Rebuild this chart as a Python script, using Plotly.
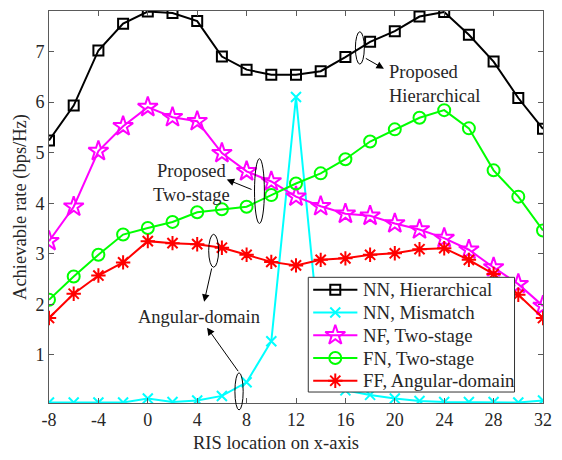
import plotly.graph_objects as go

# RIS location on the x-axis
ris_x = [-8, -6, -4, -2, 0, 2, 4, 6, 8, 10, 12, 14, 16, 18, 20, 22, 24, 26, 28, 30, 32]

# Achievable rate (bps/Hz) of each scheme
nn_hier = [5.24, 5.93, 7.02, 7.55, 7.79, 7.76, 7.60, 6.90, 6.64, 6.54, 6.54,
           6.61, 6.89, 7.19, 7.40, 7.69, 7.78, 7.33, 6.80, 6.08, 5.47]
nn_mis = [0.06, 0.06, 0.06, 0.06, 0.14, 0.07, 0.10, 0.19, 0.46, 1.27, 6.10,
          1.10, 0.30, 0.21, 0.14, 0.09, 0.07, 0.07, 0.07, 0.06, 0.10]
nf_two = [3.25, 3.93, 5.03, 5.52, 5.90, 5.70, 5.62, 4.99, 4.63, 4.43, 4.13,
          3.94, 3.79, 3.75, 3.60, 3.48, 3.31, 3.08, 2.73, 2.40, 1.97]
fn_two = [2.09, 2.55, 2.98, 3.38, 3.51, 3.63, 3.82, 3.88, 3.93, 4.16, 4.39,
          4.59, 4.87, 5.22, 5.46, 5.69, 5.84, 5.48, 4.65, 4.13, 3.46]
ff_ang = [1.73, 2.21, 2.57, 2.83, 3.25, 3.21, 3.19, 3.12, 2.98, 2.84, 2.77,
          2.88, 2.91, 2.98, 3.01, 3.09, 3.11, 2.88, 2.60, 2.19, 1.73]

x_ticks = [-8, -4, 0, 4, 8, 12, 16, 20, 24, 28, 32]
x_tick_text = ["-8", "-4", "0", "4", "8", "12", "16", "20", "24", "28", "32"]
y_ticks = [1, 2, 3, 4, 5, 6, 7]

FONT = "Liberation Serif, Times New Roman, serif"
TXT = "#262626"
AX = "#5a5a5a"

series = [
    ("NN, Hierarchical", nn_hier, "#000000", "square-open", 10),
    ("NN, Mismatch", nn_mis, "#00FFFF", "x-thin-open", 10),
    ("NF, Two-stage", nf_two, "#FF00FF", "star-open", 15),
    ("FN, Two-stage", fn_two, "#00FF00", "circle-open", 12),
    ("FF, Angular-domain", ff_ang, "#FF0000", "asterisk-open", 12),
]

fig = go.Figure()
for name, vals, col, sym, sz in series:
    fig.add_trace(go.Scatter(
        x=ris_x, y=vals, name=name, mode="lines+markers", showlegend=False,
        line=dict(color=col, width=2),
        marker=dict(symbol=sym, size=sz, color=col, line=dict(color=col, width=2)),
    ))

# plot-area geometry (pixels) used for the legend and paper-referenced items
L, R, T, B = 49, 552, 10, 403
def px(xp):
    return (xp - L) / (R - L)
def py(yp):
    return (B - yp) / (B - T)

# legend drawn on an overlay axis spanning the plot area with range [0, 1]
box_l, box_r, box_t, box_b = 313, 523, 277, 392
fig.add_trace(go.Scatter(
    x=[px(box_l), px(box_r), px(box_r), px(box_l), px(box_l)],
    y=[py(box_t), py(box_t), py(box_b), py(box_b), py(box_t)],
    mode="lines", fill="toself", fillcolor="white",
    line=dict(color="#333333", width=1), xaxis="x2", yaxis="y2",
    showlegend=False, hoverinfo="skip"))

annotations = []
row_y0, row_dy = 289.5, 22.8
for i, (name, vals, col, sym, sz) in enumerate(series):
    yy = py(row_y0 + i * row_dy)
    fig.add_trace(go.Scatter(
        x=[px(318), px(363)], y=[yy, yy], mode="lines",
        line=dict(color=col, width=2), xaxis="x2", yaxis="y2",
        showlegend=False, hoverinfo="skip"))
    fig.add_trace(go.Scatter(
        x=[px(340.5)], y=[yy], mode="markers",
        marker=dict(symbol=sym, size=sz, color=col, line=dict(color=col, width=2)),
        xaxis="x2", yaxis="y2", showlegend=False, hoverinfo="skip"))
    annotations.append(dict(x=px(367), y=yy, xref="paper", yref="paper",
                            text=name, showarrow=False, xanchor="left",
                            yanchor="middle",
                            font=dict(family=FONT, size=18.8, color=TXT)))

shapes = []
# ellipses marking the curve groups (data coordinates)
for cx, cy, hx, hy in [(17.17, 7.07, 0.36, 0.32),
                       (9.04, 4.24, 0.40, 0.64),
                       (5.33, 3.06, 0.40, 0.325)]:
    shapes.append(dict(type="circle", xref="x", yref="y",
                       x0=cx - hx, x1=cx + hx, y0=cy - hy, y1=cy + hy,
                       line=dict(color="black", width=1)))
# ellipse on the mismatch curve, reaching just below the axis
shapes.append(dict(type="circle", xref="paper", yref="paper",
                   x0=px(238.3), x1=px(246.7), y0=py(410), y1=py(372.7),
                   line=dict(color="black", width=1)))

# arrows: (tail x, tail y, head x, head y)
for tx, ty, hx, hy in [(17.53, 6.88, 19.12, 6.66),
                       (8.52, 4.26, 6.39, 4.47),
                       (5.20, 2.74, 4.56, 2.05),
                       (7.40, 0.65, 4.80, 1.54)]:
    annotations.append(dict(x=hx, y=hy, ax=tx, ay=ty, xref="x", yref="y",
                            axref="x", ayref="y", text="", showarrow=True,
                            arrowhead=2, arrowsize=1.5, arrowwidth=1,
                            arrowcolor="black"))
annotations += [
    dict(x=19.36, y=6.35, xref="x", yref="y", text="Proposed<br>Hierarchical",
         showarrow=False, xanchor="left", align="left",
         font=dict(family=FONT, size=18.5, color=TXT)),
    dict(x=3.53, y=4.40, xref="x", yref="y", text="Proposed<br>Two-stage",
         showarrow=False, xanchor="center", align="center",
         font=dict(family=FONT, size=18.5, color=TXT)),
    dict(x=4.17, y=1.75, xref="x", yref="y", text="Angular-domain",
         showarrow=False, xanchor="center",
         font=dict(family=FONT, size=18.5, color=TXT)),
    # x-axis label
    dict(x=px(280), y=py(443), xref="paper", yref="paper",
         text="RIS location on x-axis", showarrow=False,
         xanchor="center", yanchor="middle",
         font=dict(family=FONT, size=18.5, color=TXT)),
]

fig.update_layout(
    width=562, height=460,
    margin=dict(l=L, r=562 - R, t=T, b=460 - B),
    paper_bgcolor="white", plot_bgcolor="white",
    font=dict(family=FONT, size=18, color=TXT),
    shapes=shapes, annotations=annotations,
    showlegend=False,
    xaxis=dict(range=[-8, 32], tickvals=x_ticks, ticktext=x_tick_text,
               ticks="inside", ticklen=5,
               tickcolor=AX, showline=True, linecolor=AX, linewidth=1,
               mirror="ticks", showgrid=False, zeroline=False,
               tickfont=dict(family=FONT, size=18, color=TXT)),
    yaxis=dict(range=[0.05, 7.80], tickvals=y_ticks, ticks="inside", ticklen=5,
               tickcolor=AX, showline=True, linecolor=AX, linewidth=1,
               mirror="ticks", showgrid=False, zeroline=False,
               title=dict(text="Achievable rate (bps/Hz)", standoff=3,
                          font=dict(family=FONT, size=18.5, color=TXT)),
               tickfont=dict(family=FONT, size=18, color=TXT)),
    xaxis2=dict(range=[0, 1], overlaying="x", anchor="y2", visible=False,
                fixedrange=True),
    yaxis2=dict(range=[0, 1], overlaying="y", anchor="x2", visible=False,
                fixedrange=True),
)

fig.write_html("out.html")
